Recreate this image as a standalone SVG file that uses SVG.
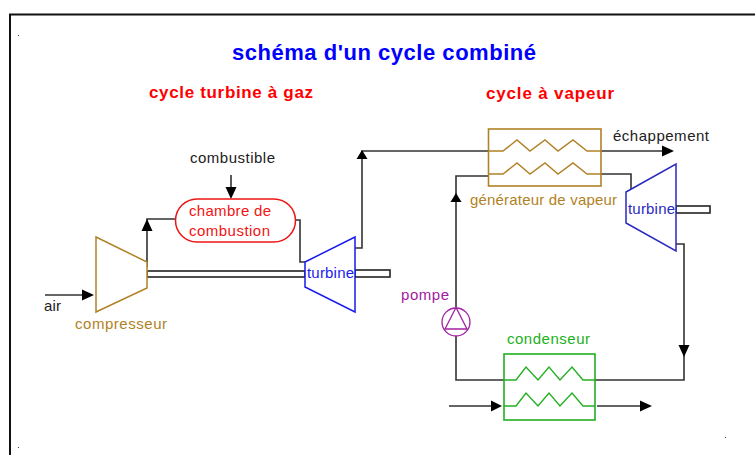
<svg xmlns="http://www.w3.org/2000/svg" width="755" height="455" viewBox="0 0 755 455">
<style>
text{font-family:"Liberation Sans",Arial,sans-serif;font-size:15px}
.b{font-weight:bold}
.t1{font-size:22px}
.t2{font-size:17px}
.line{fill:none;stroke:#333;stroke-width:1.6}
.shaft{fill:#fff;stroke:#222;stroke-width:1.6}
.coil{fill:none;stroke-width:1.4}
.brown{stroke:#b08226}
.green{stroke:#22b022}
.box{fill:none;stroke-width:1.6}
.machine{fill:#fff;stroke-width:1.5}
.tx{fill:#222}
</style>
<defs>
<path id="coil" d="M-15 0H0L14-11 27 0 42-11 55 0 70-11 84 0H98"/>
<path id="coil2" d="M-12 0H0L10-13 22 0 33-13 44 0 56-13 67 0H79"/>
</defs>
<rect width="755" height="455" fill="#fff"/>
<path d="M10 455V14.500H755" fill="none" stroke="#111" stroke-width="2"/>
<g id="dots" fill="#444"><rect x="18" y="35" width="1" height="1"/><rect x="18" y="447" width="1" height="1"/><rect x="725" y="437" width="1" height="1"/></g>
<g id="titles">
<text class="b t1" x="232" y="60" fill="#0000ff" textLength="304">schéma d'un cycle combiné</text>
<text class="b t2" x="149" y="98" fill="#ff0000" textLength="164">cycle turbine à gaz</text>
<text class="b t2" x="486" y="99" fill="#ff0000" textLength="128">cycle à vapeur</text>
</g>
<g id="connectors">
<path class="line" d="M147 267V219H175M296 220H300V262H305M355 248H362V151H488M601 151H664M456 307V176H488M601 174H631V190M676 244H684V380H595M504 380H456V336M449 406H495M597 406H642M45 295H84M231 175V189"/>
<g fill="#000">
<path d="M147 219l-5.500 12h11z"/><path d="M362 150l-5.500 9h11z"/><path d="M674 151l-12-5.500v11z"/><path d="M456 193l-5.500 9h11z"/><path d="M684 357l-5.500-12h11z"/><path d="M502 406l-11-5.500v11z"/><path d="M652 406l-12-5.500v11z"/><path d="M94 295l-12-5.500v11z"/><path d="M231 199l-5.500-12h11z"/>
</g>
</g>
<g id="shaft1"><rect class="shaft" x="147" y="271" width="158" height="6"/></g>
<g id="shaft2"><rect class="shaft" x="355" y="270" width="35" height="7"/></g>
<g id="shaft3"><rect class="shaft" x="676" y="206" width="34" height="7"/></g>
<g id="compresseur">
<path class="machine brown" d="M96 237L147 262V288L96 312Z"/>
<text x="75" y="329" fill="#b08226" textLength="92">compresseur</text>
</g>
<g id="chambre">
<rect x="175.500" y="199" width="120" height="43" rx="21.500" fill="#fff" stroke="#f01414" stroke-width="1.500"/>
<text x="189" y="216" fill="#f01414" textLength="82">chambre de</text>
<text x="189" y="236" fill="#f01414" textLength="81">combustion</text>
</g>
<g id="turbine-gaz">
<path class="machine" stroke="#1a1af0" d="M305 262L355 237V312L305 287Z"/>
<text x="307" y="278" fill="#1a1af0" textLength="47">turbine</text>
</g>
<g id="combustible"><text class="tx" x="190" y="163" textLength="85">combustible</text></g>
<g id="air"><text class="tx" x="44" y="311" textLength="17">air</text></g>
<g id="generateur">
<rect class="box brown" x="488.500" y="129" width="112.500" height="57"/>
<use href="#coil" x="503" y="151" class="coil brown"/>
<use href="#coil" x="503" y="174" class="coil brown"/>
<text x="470" y="205" fill="#b08226" textLength="147">générateur de vapeur</text>
</g>
<g id="echappement"><text class="tx" x="613" y="141" textLength="96">échappement</text></g>
<g id="turbine-vapeur">
<path class="machine" stroke="#2a2ac0" d="M626 192L676 164V251L626 223Z"/>
<text x="628" y="214" fill="#2a2ac0" textLength="47">turbine</text>
</g>
<g id="pompe">
<circle cx="456" cy="322" r="14" fill="#fff" stroke="#a020a0" stroke-width="1.300"/>
<path d="M456 307.500L445 329H467Z" fill="none" stroke="#a020a0" stroke-width="1.300"/>
<text x="401" y="300" fill="#a020a0" textLength="48">pompe</text>
</g>
<g id="condenseur">
<rect class="box green" x="504" y="354" width="91" height="66"/>
<use href="#coil2" x="516" y="380" class="coil green"/>
<use href="#coil2" x="516" y="406" class="coil green"/>
<text x="507" y="344" fill="#22b022" textLength="83">condenseur</text>
</g>
</svg>
